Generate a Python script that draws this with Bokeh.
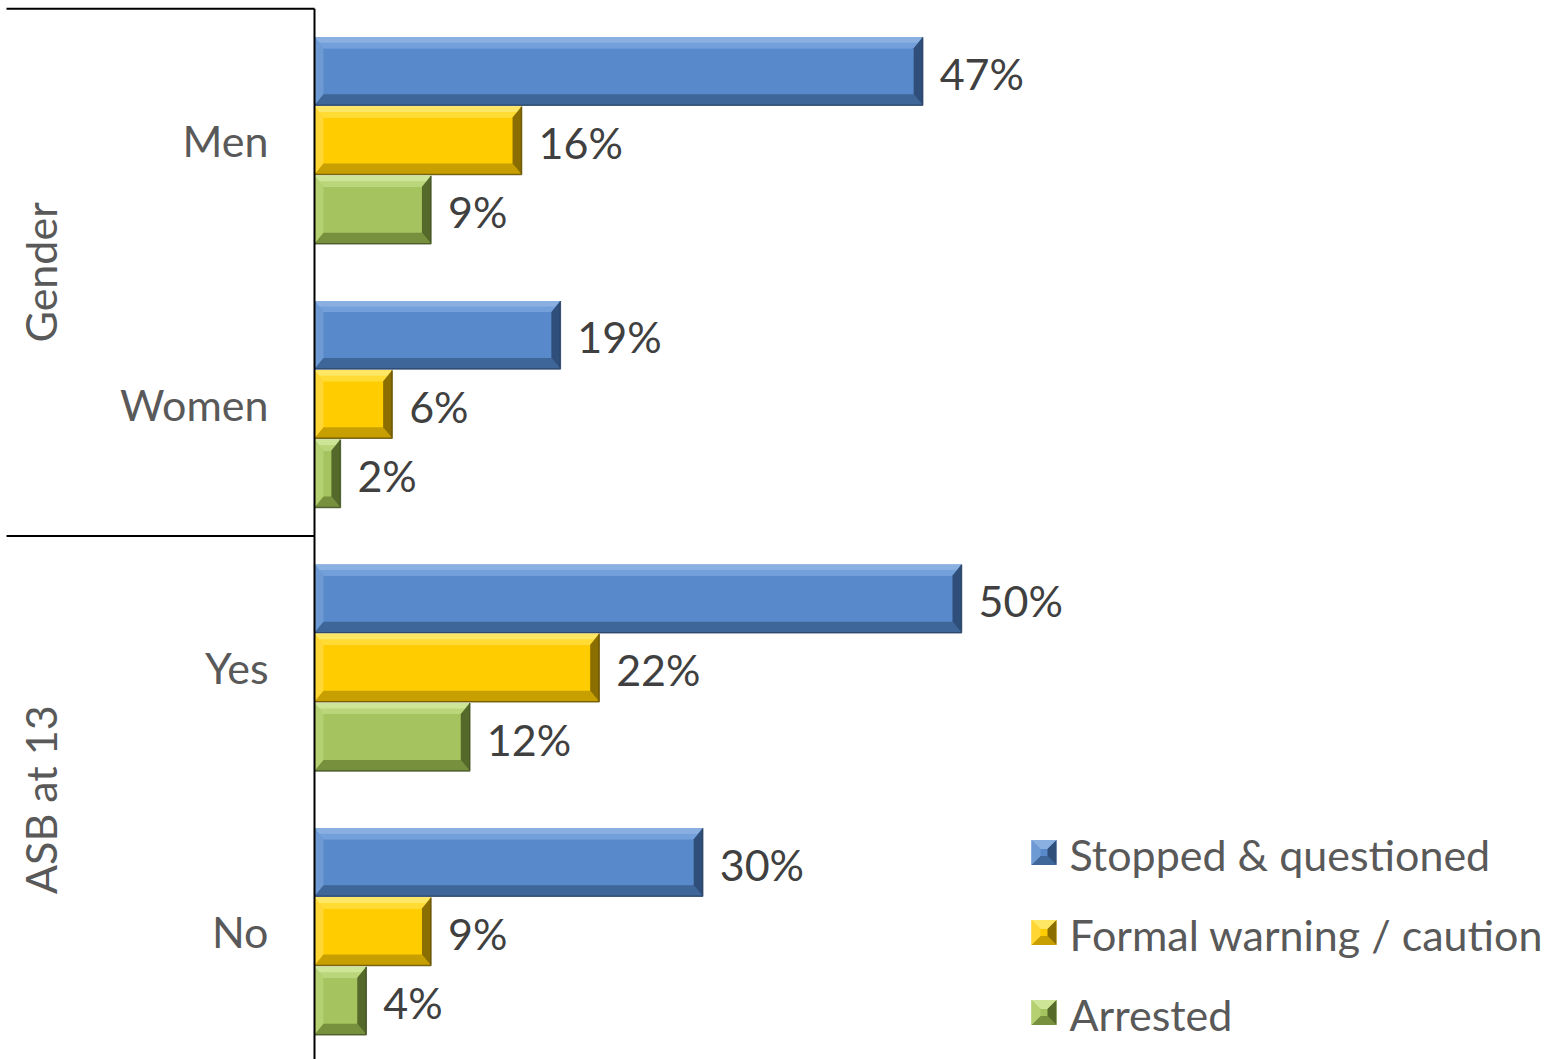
import numpy as np
from bokeh.plotting import figure
from bokeh.models import Range1d, ColumnDataSource
from bokeh.core.properties import value
from bokeh.embed import file_html
from bokeh.resources import INLINE

# ---------------- data ----------------
groups = ["Gender", "ASB at 13"]
categories = ["Men", "Women", "Yes", "No"]
category_group = ["Gender", "Gender", "ASB at 13", "ASB at 13"]
series = ["Stopped & questioned", "Formal warning / caution", "Arrested"]
stopped = [47, 19, 50, 30]
warning = [16, 6, 22, 9]
arrested = [9, 2, 12, 4]
series_values = [stopped, warning, arrested]

# ---------------- styles ----------------
# (main, top highlight, left, bottom shade, right shade, outline, top inner)
palettes = [
    ("#5889CA", "#8AB0E2", "#6E9AD4", "#3F6699", "#2F4F7A", "#263F60", "#73A0DA"),
    ("#FFCC00", "#FFE766", "#FFD633", "#C89F00", "#8A6E00", "#5E4B00", "#FFDB33"),
    ("#A5C35F", "#CDE596", "#B4D070", "#76903E", "#55692A", "#3E4D1E", "#B9D67A"),
]
FONT = "Lato"
FS = "43px"
LABEL_COLOR = "#404040"
AXIS_TEXT_COLOR = "#595959"

W, H = 1566, 1059
PX_PER_X = 12.94        # pixels per percent
PX_PER_Y = 263.67       # pixels per category
AXIS_PX = 314
X0 = -AXIS_PX / PX_PER_X
X1 = X0 + W / PX_PER_X
Y_TOP = 4.031
Y_BOT = Y_TOP - H / PX_PER_Y

def dx_px(px):
    return px / PX_PER_X

def dy_px(px):
    return px / PX_PER_Y

def x_at(px):
    return X0 + px / PX_PER_X

def y_at(px):
    return Y_TOP - px / PX_PER_Y

p = figure(width=W, height=H, output_backend="svg", toolbar_location=None,
           x_range=Range1d(X0, X1), y_range=Range1d(Y_BOT, Y_TOP),
           min_border=0, min_border_left=0, min_border_right=0,
           min_border_top=0, min_border_bottom=0)
p.axis.visible = False
p.grid.visible = False
p.outline_line_color = None
p.background_fill_color = "white"
p.border_fill_color = "white"

n = len(categories)
cat_pos = [n - 0.5 - i for i in range(n)]
step = 0.2625
half_h = 0.129
BEV_X = dx_px(9)
BEV_Y = dy_px(11)

for j, vals in enumerate(series_values):
    main, top_c, left_c, bot_c, right_c, out_c, top_in = palettes[j]
    base = dict(left=[], right=[], top=[], bottom=[])
    strips = {k: dict(xs=[], ys=[]) for k in ("top", "topin", "left", "bottom", "right")}
    for i, v in enumerate(vals):
        yc = cat_pos[i] + (1 - j) * step
        y0, y1 = yc - half_h, yc + half_h
        x0, x1 = 0.0, float(v)
        bx = min(BEV_X, (x1 - x0) / 2.0)
        by = BEV_Y
        base["left"].append(x0); base["right"].append(x1)
        base["top"].append(y1); base["bottom"].append(y0)
        strips["top"]["xs"].append([x0, x1, x1 - bx, x0 + bx])
        strips["top"]["ys"].append([y1, y1, y1 - by, y1 - by])
        strips["topin"]["xs"].append([x0 + bx * 0.5, x1 - bx * 0.5, x1 - bx, x0 + bx])
        strips["topin"]["ys"].append([y1 - by * 0.5, y1 - by * 0.5, y1 - by, y1 - by])
        strips["bottom"]["xs"].append([x0, x1, x1 - bx, x0 + bx])
        strips["bottom"]["ys"].append([y0, y0, y0 + by, y0 + by])
        strips["left"]["xs"].append([x0, x0, x0 + bx, x0 + bx])
        strips["left"]["ys"].append([y0, y1, y1 - by, y0 + by])
        strips["right"]["xs"].append([x1, x1, x1 - bx, x1 - bx])
        strips["right"]["ys"].append([y0, y1, y1 - by, y0 + by])
    p.quad(source=ColumnDataSource(base), fill_color=main, line_color=None)
    p.patches(source=ColumnDataSource(strips["top"]), xs="xs", ys="ys", fill_color=top_c, line_color=None)
    p.patches(source=ColumnDataSource(strips["topin"]), xs="xs", ys="ys", fill_color=top_in, line_color=None)
    p.patches(source=ColumnDataSource(strips["left"]), xs="xs", ys="ys", fill_color=left_c, line_color=None)
    p.patches(source=ColumnDataSource(strips["bottom"]), xs="xs", ys="ys", fill_color=bot_c, line_color=None)
    p.patches(source=ColumnDataSource(strips["right"]), xs="xs", ys="ys", fill_color=right_c, line_color=None)
    # outline on right & bottom edges
    p.multi_line(xs=[[0, v, v] for v in vals],
                 ys=[[cat_pos[i] + (1 - j) * step - half_h,
                      cat_pos[i] + (1 - j) * step - half_h,
                      cat_pos[i] + (1 - j) * step + half_h] for i, v in enumerate(vals)],
                 line_color=out_c, line_width=1.5, line_alpha=0.8)
    # value labels
    p.text(x=[v + dx_px(17) for v in vals],
           y=[cat_pos[i] + (1 - j) * step - dy_px(2) for i in range(n)],
           text=[f"{v}%" for v in vals],
           text_font=value(FONT), text_font_size=FS,
           text_color=LABEL_COLOR, text_align="left", text_baseline="middle")

# category labels
p.text(x=[dx_px(-46)] * n, y=cat_pos, text=categories,
       text_font=value(FONT), text_font_size=FS, text_color=AXIS_TEXT_COLOR,
       text_align="right", text_baseline="middle")

# group labels (rotated) and separators
g_centers = []
g_bounds = []
for g in groups:
    idx = [i for i, cg in enumerate(category_group) if cg == g]
    lo = min(cat_pos[i] for i in idx) - 0.5
    hi = max(cat_pos[i] for i in idx) + 0.5
    g_centers.append((lo + hi) / 2)
    g_bounds.extend([lo, hi])
p.text(x=[x_at(40)] * len(groups), y=g_centers, text=groups, angle=np.pi / 2,
       text_font=value(FONT), text_font_size=FS, text_color=AXIS_TEXT_COLOR,
       text_align="center", text_baseline="middle")
bounds = sorted(set(g_bounds))
p.segment(x0=[x_at(6)] * len(bounds), x1=[0] * len(bounds), y0=bounds, y1=bounds,
          line_color="black", line_width=2)
# vertical axis line
p.segment(x0=[0], x1=[0], y0=[Y_BOT - 1], y1=[max(bounds)], line_color="black", line_width=2)

# legend
leg_x0 = x_at(1031)
leg_x1 = x_at(1056)
row_px = [852, 932, 1012]
for j, name in enumerate(series):
    main, top_c, left_c, bot_c, right_c, out_c, top_in = palettes[j]
    yc = y_at(row_px[j])
    hh = dy_px(12.5)
    ins_x = dx_px(9)
    ins_y = dy_px(9)
    xa, xb = leg_x0, leg_x1
    ya, yb = yc - hh, yc + hh
    p.quad(left=[xa], right=[xb], bottom=[ya], top=[yb], fill_color=main, line_color=None)
    p.patches(xs=[[xa, xb, xb - ins_x, xa + ins_x]], ys=[[yb, yb, yb - ins_y, yb - ins_y]], fill_color=top_c, line_color=None)
    p.patches(xs=[[xa, xb, xb - ins_x, xa + ins_x]], ys=[[ya, ya, ya + ins_y, ya + ins_y]], fill_color=bot_c, line_color=None)
    p.patches(xs=[[xa, xa, xa + ins_x, xa + ins_x]], ys=[[ya, yb, yb - ins_y, ya + ins_y]], fill_color=left_c, line_color=None)
    p.patches(xs=[[xb, xb, xb - ins_x, xb - ins_x]], ys=[[ya, yb, yb - ins_y, ya + ins_y]], fill_color=right_c, line_color=None)
    p.text(x=[x_at(1069)], y=[yc - dy_px(2)], text=[name],
           text_font=value(FONT), text_font_size=FS, text_color=AXIS_TEXT_COLOR,
           text_align="left", text_baseline="middle")

open("out.html", "w").write(file_html(p, INLINE))
